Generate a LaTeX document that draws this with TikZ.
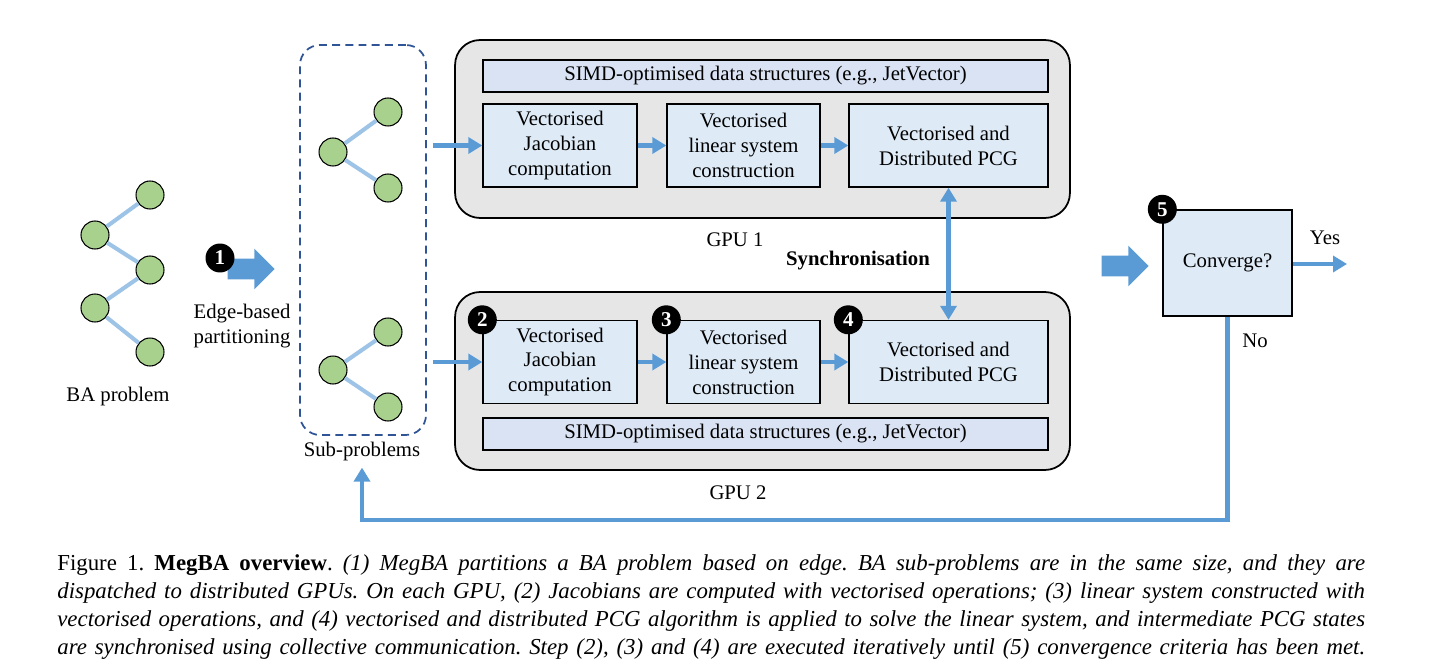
\documentclass[tikz,border=0pt]{standalone}
\usepackage{fontspec}
\setmainfont{Liberation Serif}
\usetikzlibrary{arrows.meta,shapes.arrows}
\frenchspacing

\definecolor{flowblue}{HTML}{5B9BD5}
\definecolor{edgeblue}{HTML}{9DC3E6}
\definecolor{treegreen}{HTML}{A9D18E}
\definecolor{stepblue}{HTML}{DEEBF7}
\definecolor{simdblue}{HTML}{DAE3F3}
\definecolor{gpugray}{HTML}{E6E6E6}
\definecolor{dashblue}{HTML}{2F5597}

\begin{document}
\begin{tikzpicture}
        [x=0.02cm,y=-0.02cm,font=\fontsize{11.8}{14.2}\selectfont,
          treenode/.style={shape=circle,minimum size=0.56cm,inner sep=0pt,draw,fill=treegreen,line width=0.6pt},%
          treeedge/.style={-,draw=edgeblue,line width=2.3pt},%
          gpubox/.style={draw,fill=gpugray,rounded corners=0.5cm,line width=1pt,minimum width=12.3cm,minimum height=3.56cm},%
          simdbar/.style={draw,fill=simdblue,line width=0.8pt,minimum width=11.3cm,minimum height=0.64cm},%
          stepbox/.style={draw,fill=stepblue,line width=0.8pt,align=center,minimum height=1.66cm,inner sep=0pt},%
          badge/.style={shape=circle,fill=black,text=white,inner sep=0pt,minimum size=0.58cm,font=\fontsize{12}{12}\selectfont\bfseries},%
          flow/.style={draw=flowblue,line width=2.8pt,-{Triangle[length=0.28cm,width=0.32cm]}},%
          bigarrow/.style={shape=single arrow,fill=flowblue,inner sep=0.2cm,single arrow head extend=0.2cm,minimum height=0.94cm},%
          caption/.style={anchor=base west,inner sep=0pt,font=\fontsize{13}{15}\selectfont}]
        \useasboundingbox (0,0) rectangle (1439,672);
        %% tree nodes
        \foreach \nodename/\px/\py in {b1/150/195, b2/95/235, b3/150/270, b4/95/308,
          b5/150/352, u1/333/152, u2/388/112, u3/388/188, l1/333/370, l2/388/332,
          l3/388/407}
        {
          \node (\nodename) at (\px,\py) [treenode] {};
        }
        %% tree edges
        \path
        \foreach \startnode/\endnode in {b2/b1, b2/b3, b4/b3, b4/b5, u1/u2, u1/u3,
          l1/l2, l1/l3}
        {
          (\startnode) edge[treeedge] (\endnode)
        };
        \node (balabel) at (118,397) {BA problem};
        %% partitioning
        \node (arr1) at (246,269) [bigarrow] {};
        \node (s1) at (220,258) [badge] {1};
        \node (partlabel) at (242,326) [align=center] {Edge-based\\partitioning};
        \node (subbox) at (363,240) [draw=dashblue,dash pattern=on 4.5pt off 3pt,line width=1pt,rounded corners=0.4cm,
          minimum width=2.52cm,minimum height=7.8cm] {};
        \node (sublabel) at (362,452) {Sub-problems};
        %% the two GPUs
        \foreach \g/\gy/\by/\sy in {1/129/145.5/76, 2/381/362/434}
        {
          \node (gpu\g) at (762.5,\gy) [gpubox] {};
          \node (simd\g) at (765.5,\sy) [simdbar] {SIMD-optimised data structures (e.g., JetVector)};
          \node (jac\g) at (560,\by) [stepbox,minimum width=3.08cm] {Vectorised\\Jacobian\\computation};
          \node (lin\g) at (743.5,\by) [stepbox,minimum width=3.06cm] {Vectorised\\linear system\\construction};
          \node (pcg\g) at (948.5,\by) [stepbox,minimum width=3.98cm] {Vectorised and\\Distributed PCG};
          \draw[flow,shorten <=0.12cm] (subbox.east |- jac\g.west) -- (jac\g.west);
          \draw[flow] (jac\g) -- (lin\g);
          \draw[flow] (lin\g) -- (pcg\g);
        }
        \node (gpul1) at (735,240) {GPU 1};
        \node (gpul2) at (738,493) {GPU 2};
        \node (s2) at (jac2.north west) [badge] {2};
        \node (s3) at (lin2.north west) [badge] {3};
        \node (s4) at (pcg2.north west) [badge] {4};
        \draw[flow,{Triangle[length=0.28cm,width=0.32cm]}-{Triangle[length=0.28cm,width=0.32cm]}]
          (pcg1.south) -- (pcg2.north);
        \node (synclabel) at (936,261) [anchor=east,font=\fontsize{11.8}{14.2}\selectfont\bfseries] {Synchronisation};
        %% convergence
        \node (arr2) at (1120,266) [bigarrow] {};
        \node (conv) at (1227.5,263) [draw,fill=stepblue,line width=0.8pt,minimum width=2.58cm,
          minimum height=2.12cm] {Converge?};
        \node (s5) at (conv.north west) [badge] {5};
        \coordinate (yesend) at (1347,264);
        \draw[flow] (conv.east |- yesend) -- (yesend);
        \node (yeslabel) at (1325,238) {Yes};
        \node (nolabel) at (1255,341) {No};
        \coordinate (loopc) at (1228,520);
        \draw[flow] (conv.south) -- (conv.south |- loopc) -| (sublabel.south);
        %% caption
        \node (cap1) at (57,570) [caption] {\makebox[26.16cm][s]{Figure 1. \textbf{MegBA overview}. \textit{(1) MegBA partitions a BA problem based on edge. BA sub-problems are in the same size, and they are}}};
        \node (cap2) at (57,598) [caption] {\makebox[26.16cm][s]{\textit{dispatched to distributed GPUs. On each GPU, (2) Jacobians are computed with vectorised operations; (3) linear system constructed with}}};
        \node (cap3) at (57,626) [caption] {\makebox[26.16cm][s]{\textit{vectorised operations, and (4) vectorised and distributed PCG algorithm is applied to solve the linear system, and intermediate PCG states}}};
        \node (cap4) at (57,654) [caption] {\makebox[26.16cm][s]{\textit{are synchronised using collective communication. Step (2), (3) and (4) are executed iteratively until (5) convergence criteria has been met.}}};
\end{tikzpicture}
\end{document}
